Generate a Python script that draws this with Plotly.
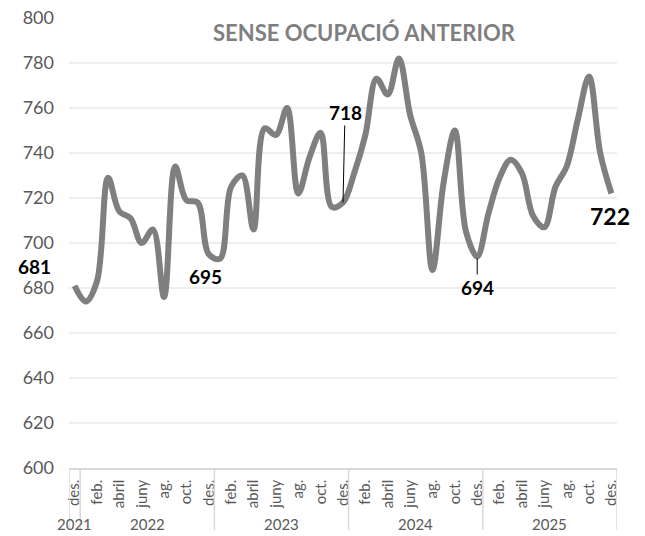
import plotly.graph_objects as go

# ---- data ----
years = [2021] + [2022] * 12 + [2023] * 12 + [2024] * 12 + [2025] * 12
month_names = ["des.", "gen.", "feb.", "març", "abril", "maig", "juny",
               "jul.", "ag.", "set.", "oct.", "nov."]
months = ["des."] + month_names[1:] + ["des."] + month_names[1:] + ["des."] + month_names[1:] + ["des."] + month_names[1:] + ["des."]
values = [681,
          674, 683, 729, 714, 711, 700, 706, 676, 734, 719, 718, 695,
          693, 725, 730, 706, 751, 748, 760, 722, 738, 749, 716, 718,
          731, 748, 773, 766, 782, 757, 740, 688, 727, 750, 705, 694,
          713, 729, 737, 731, 712, 707, 725, 734, 755, 774, 740, 722]
title_text = "SENSE OCUPACIÓ ANTERIOR"
y_ticks = list(range(600, 801, 20))

FONT = "Lato"
x = list(range(len(values)))

fig = go.Figure()
fig.add_trace(go.Scatter(
    x=x, y=values, mode="lines",
    line=dict(color="#7f7f7f", width=6, shape="spline", smoothing=1.0),
    hoverinfo="skip", showlegend=False))

# tick labels every other month
tickvals = x[::2]
ticktext = [months[i] for i in tickvals]

# year groups
groups = {}
for i, yv in enumerate(years):
    groups.setdefault(yv, []).append(i)
shapes = []
annotations = []
bounds = [-0.5]
for yv, idx in groups.items():
    bounds.append(idx[-1] + 0.5)
    annotations.append(dict(
        x=(idx[0] + idx[-1]) / 2, y=-0.148, xref="x", yref="paper",
        text=str(yv), showarrow=False, yanchor="bottom",
        font=dict(family=FONT, size=15, color="#595959")))
for b in bounds:
    shapes.append(dict(type="line", xref="x", yref="paper", x0=b, x1=b,
                       y0=0, y1=-0.138, line=dict(color="#d9d9d9", width=1.5)))

# data labels on December points
lab_font = dict(family=FONT, size=19, color="#000000")
dec_idx = [i for i, m in enumerate(months) if m == "des."]
# 681
annotations.append(dict(x=dec_idx[0], y=values[dec_idx[0]], text="<b>%d</b>" % values[dec_idx[0]],
                        showarrow=False, xshift=-40, yshift=19, font=lab_font))
# 695
annotations.append(dict(x=dec_idx[1], y=values[dec_idx[1]], text="<b>%d</b>" % values[dec_idx[1]],
                        showarrow=False, xshift=-3, yshift=-22, font=lab_font))
# 718 with leader line
annotations.append(dict(x=dec_idx[2], y=values[dec_idx[2]], text="<b>%d</b>" % values[dec_idx[2]],
                        showarrow=True, arrowhead=0, arrowwidth=1, arrowcolor="#000000",
                        ax=2, ay=-90, font=lab_font))
# 694 with leader line
annotations.append(dict(x=dec_idx[3], y=values[dec_idx[3]], text="<b>%d</b>" % values[dec_idx[3]],
                        showarrow=True, arrowhead=0, arrowwidth=1, arrowcolor="#000000",
                        ax=0, ay=31, standoff=2, font=lab_font))
# 722
annotations.append(dict(x=dec_idx[4], y=values[dec_idx[4]], text="<b>%d</b>" % values[dec_idx[4]],
                        showarrow=False, xshift=-1, yshift=-22,
                        font=dict(family=FONT, size=23, color="#000000")))
# title
annotations.append(dict(x=0.54, y=0.967, xref="paper", yref="paper",
                        xanchor="center", yanchor="middle",
                        text="<b>%s</b>" % title_text, showarrow=False,
                        font=dict(family=FONT, size=22, color="#7f7f7f")))

fig.update_layout(
    width=645, height=536,
    margin=dict(l=69, r=28, t=18, b=68, autoexpand=False),
    paper_bgcolor="white", plot_bgcolor="white",
    shapes=shapes, annotations=annotations,
    xaxis=dict(range=[-0.5, len(values) - 0.5], tickmode="array",
               tickvals=tickvals, ticktext=ticktext, tickangle=-90,
               showgrid=False, zeroline=False, showline=True,
               linecolor="#d9d9d9", linewidth=1.5, ticks="", automargin=False,
               ticklabelstandoff=4,
               tickfont=dict(family=FONT, size=15, color="#595959")),
    yaxis=dict(range=[600, 800], tickmode="array", tickvals=y_ticks,
               showgrid=True, gridcolor="#eeeeee", gridwidth=1.5,
               zeroline=False, showline=False, ticks="", automargin=False,
               ticklabelstandoff=14,
               tickfont=dict(family=FONT, size=18, color="#595959")),
)

fig.write_html("out.html", config={"displayModeBar": False},
               post_script="document.body.style.margin='0';document.body.style.overflow='hidden';")
